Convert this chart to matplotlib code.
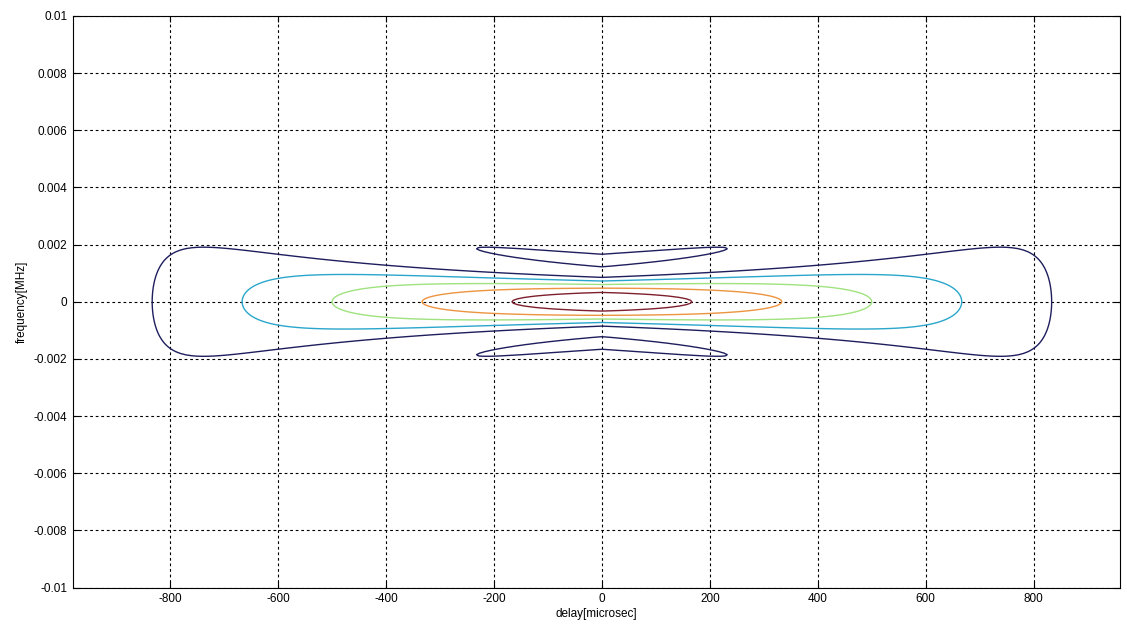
import numpy as np
import matplotlib
matplotlib.use('Agg')
import matplotlib.pyplot as plt

# Rectangular pulse ambiguity function, parameters
pulse_width = 1000.0                       # microsec (zero-doppler cut reaches 0 at +-T)
levels = [1/6, 2/6, 3/6, 4/6, 5/6]          # 5 automatic contour levels
level_colors = ['#1e1e5e', '#2aa6cc', '#9fe27f', '#ec9440', '#7e1f2e']

delay = np.linspace(-980, 960, 195)         # microsec
freq = np.linspace(-0.01, 0.01, 401)       # MHz

x_ticks = [-800, -600, -400, -200, 0, 200, 400, 600, 800]
y_ticks = [-0.01, -0.008, -0.006, -0.004, -0.002, 0, 0.002, 0.004, 0.006, 0.008, 0.01]
y_ticklabels = ['-0.01', '-0.008', '-0.006', '-0.004', '-0.002', '0',
                '0.002', '0.004', '0.006', '0.008', '0.01']


def main():
    plt.rcParams['font.family'] = ['Liberation Sans', 'DejaVu Sans']
    plt.rcParams['axes.unicode_minus'] = False

    tau, f = np.meshgrid(delay, freq)
    overlap = np.clip(pulse_width - np.abs(tau), 0, None)
    amb = np.abs(overlap / pulse_width * np.sinc(f * overlap))

    fig = plt.figure(figsize=(11.27, 6.32), dpi=100)
    ax = fig.add_axes([0.0648, 0.0704, 0.929, 0.9043])

    ax.contour(delay, freq, amb, levels=levels, colors=level_colors, linewidths=1.0)

    ax.set_xlim(delay[0], delay[-1])
    ax.set_ylim(-0.01, 0.01)
    ax.set_xticks(x_ticks)
    ax.set_yticks(y_ticks)
    ax.set_yticklabels(y_ticklabels)
    ax.tick_params(direction='in', length=4, labelsize=8.5, top=True, right=True, pad=4)
    ax.grid(True, color='black', linestyle=(0, (2.5, 2.5)), linewidth=0.8)
    for s in ax.spines.values():
        s.set_linewidth(0.8)

    ax.set_xlabel('delay[microsec]', fontsize=8.5, labelpad=2)
    ax.set_ylabel('frequency[MHz]', fontsize=8.5, labelpad=4)

    fig.savefig('out.png', dpi=100)


if __name__ == '__main__':
    main()
